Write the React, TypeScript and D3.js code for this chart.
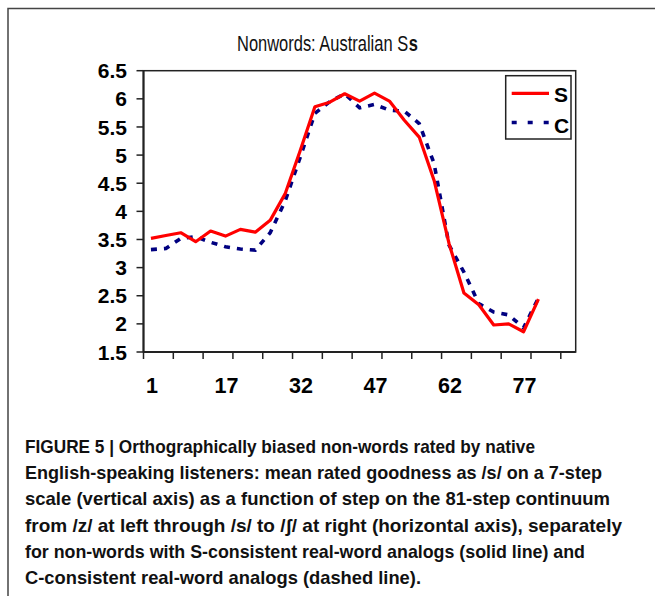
import React, { useLayoutEffect, useRef, useState } from "react";
import * as d3 from "d3";

// Category labels (29 category slots on the Excel category axis; only every 5th labelled)
const categoryLabels: string[] = [
  "1", "", "", "", "", "17", "", "", "", "", "32", "", "", "", "", "47", "", "", "", "", "62", "", "", "", "", "77", "", "", "",
];

// Series: mean rated goodness as /s/
const seriesS: number[] = [
  3.52, 3.57, 3.62, 3.46, 3.65, 3.56, 3.68, 3.63, 3.84, 4.31, 5.07, 5.86, 5.94, 6.09, 5.96, 6.1, 5.96, 5.62, 5.32, 4.55,
  3.43, 2.55, 2.34, 1.98, 2.0, 1.86, 2.44,
];
const seriesC: number[] = [
  3.32, 3.34, 3.52, 3.55, 3.45, 3.37, 3.33, 3.31, 3.62, 4.18, 4.95, 5.74, 5.95, 6.09, 5.84, 5.9, 5.8, 5.78, 5.56, 4.85,
  3.4, 2.92, 2.36, 2.21, 2.16, 1.93, 2.46,
];

const yTicks: number[] = [1.5, 2, 2.5, 3, 3.5, 4, 4.5, 5, 5.5, 6, 6.5];
const yTickLabels: string[] = ["1.5", "2", "2.5", "3", "3.5", "4", "4.5", "5", "5.5", "6", "6.5"];

const legendNames: string[] = ["S", "C"];

const titleMain = "Nonwords: Australian S";
const titleBold = "s";

const captionLines: string[] = [
  "FIGURE 5 | Orthographically biased non-words rated by native",
  "English-speaking listeners: mean rated goodness as /s/ on a 7-step",
  "scale (vertical axis) as a function of step on the 81-step continuum",
  "from /z/ at left through /s/ to /\u0283/ at right (horizontal axis), separately",
  "for non-words with S-consistent real-word analogs (solid line) and",
  "C-consistent real-word analogs (dashed line).",
];
const captionWidths: number[] = [510, 577, 585, 597, 560, 396];

const FONT = "'Liberation Sans', Arial, Helvetica, sans-serif";

export default function App() {
  const W = 655;
  const H = 596;
  const left = 143.5;
  const right = 575.7;
  const top = 70.7;
  const bottom = 352;

  const mainRef = useRef<SVGTextElement>(null);
  const boldRef = useRef<SVGTextElement>(null);
  const [tw, setTw] = useState<[number, number]>([242, 12]);
  useLayoutEffect(() => {
    if (mainRef.current && boldRef.current) {
      const a = mainRef.current.getComputedTextLength();
      const b = boldRef.current.getComputedTextLength();
      if (a > 0 && b > 0) setTw([a, b]);
    }
  }, []);
  const titleX = 237;
  const titleW = 181;
  const sx = titleW / (tw[0] + tw[1] + 1);

  const idx = categoryLabels.map((_, i) => i);
  const x = d3.scaleBand<number>().domain(idx).range([left, right]).padding(0);
  const y = d3.scaleLinear().domain([1.5, 6.5]).range([bottom, top]);
  const cx = (i: number) => (x(i) as number) + x.bandwidth() / 2;

  const line = d3
    .line<number>()
    .x((_, i) => cx(i))
    .y((d) => y(d));

  // tick marks every 2 categories
  const xTickPos = idx.filter((i) => i % 2 === 0).map((i) => x(i) as number);

  const capLeft = 25;
  const capBase0 = 453;
  const capStep = 26.2;

  return (
    <svg
      width={W}
      height={H}
      style={{ position: "absolute", left: 0, top: 0, background: "#fff" }}
      fontFamily={FONT}
    >
      <rect x={0} y={0} width={W} height={H} fill="#fff" />
      {/* outer figure frame */}
      <path d={`M8,${H} L8,8.5 L${W},8.5`} fill="none" stroke="#444" strokeWidth={1.5} />

      {/* title */}
      <text ref={mainRef} transform={`translate(${titleX},51) scale(${sx},1)`} fontSize={22} fill="#111">
        {titleMain}
      </text>
      <text
        ref={boldRef}
        transform={`translate(${titleX + (tw[0] + 1) * sx},51) scale(${sx},1)`}
        fontSize={22}
        fontWeight="bold"
        fill="#111"
      >
        {titleBold}
      </text>

      {/* plot border */}
      <rect x={left} y={top} width={right - left} height={bottom - top} fill="none" stroke="#222" strokeWidth={1.5} />
      <line x1={left} x2={left} y1={top} y2={bottom} stroke="#222" strokeWidth={2} />
      <line x1={left} x2={right} y1={bottom} y2={bottom} stroke="#222" strokeWidth={2} />

      {/* y ticks */}
      {yTicks.map((t, i) => (
        <g key={"y" + i}>
          <line x1={left - 7} x2={left} y1={y(t)} y2={y(t)} stroke="#222" strokeWidth={1.5} />
          <text x={127} y={y(t)} dy="0.36em" textAnchor="end" fontSize={21} fontWeight="bold" fill="#000">
            {yTickLabels[i]}
          </text>
        </g>
      ))}

      {/* x ticks */}
      {xTickPos.map((p, i) => (
        <line key={"xt" + i} x1={p} x2={p} y1={bottom} y2={bottom + 7} stroke="#222" strokeWidth={1.5} />
      ))}
      {categoryLabels.map((lab, i) =>
        lab ? (
          <text key={"xl" + i} x={cx(i) + 1} y={393} textAnchor="middle" fontSize={21.5} fontWeight="bold" fill="#000">
            {lab}
          </text>
        ) : null
      )}

      {/* series */}
      <path d={line(seriesC) || ""} fill="none" stroke="#000080" strokeWidth={3.6} strokeDasharray="6,7" />
      <path d={line(seriesS) || ""} fill="none" stroke="#ff0000" strokeWidth={3.2} strokeLinejoin="round" />

      {/* legend */}
      <rect x={505.7} y={75.7} width={65.3} height={63.3} fill="#fff" stroke="#222" strokeWidth={1.5} />
      <line x1={511.7} x2={549} y1={93.3} y2={93.3} stroke="#ff0000" strokeWidth={3.2} />
      <text x={554} y={101.5} fontSize={21} fontWeight="bold" fill="#000">
        {legendNames[0]}
      </text>
      <line x1={511.7} x2={549} y1={122.5} y2={122.5} stroke="#000080" strokeWidth={3.6} strokeDasharray="5,11" />
      <text x={554} y={132.5} fontSize={21} fontWeight="bold" fill="#000">
        {legendNames[1]}
      </text>

      {/* caption */}
      {captionLines.map((l, i) => (
        <text
          key={"cap" + i}
          x={capLeft}
          y={capBase0 + i * capStep}
          fontSize={18.5}
          fontWeight="bold"
          fill="#111"
          textLength={captionWidths[i]}
          lengthAdjust="spacingAndGlyphs"
        >
          {l}
        </text>
      ))}
    </svg>
  );
}
